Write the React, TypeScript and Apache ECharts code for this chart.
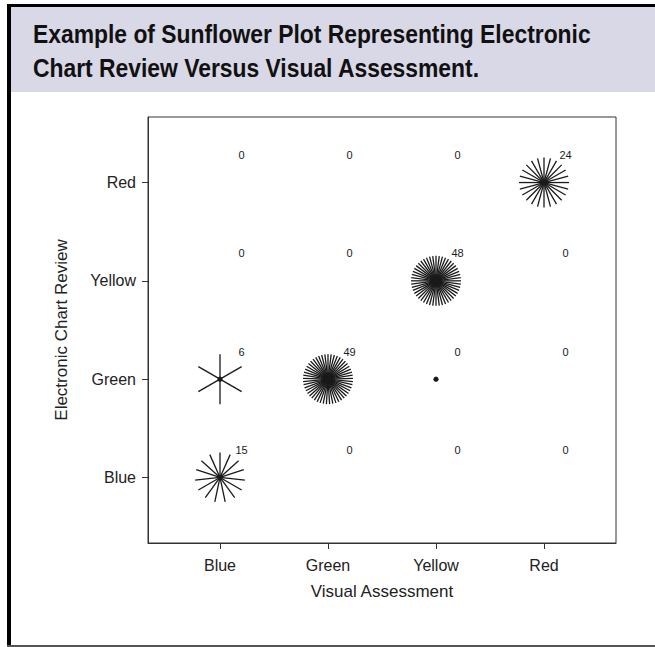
import React, { useEffect, useRef } from "react";
import * as echarts from "echarts";

const xCategories = ["Blue", "Green", "Yellow", "Red"];
const yCategories = ["Blue", "Green", "Yellow", "Red"];

// petals drawn per cell, one array per Electronic Chart Review row (columns = Visual Assessment)
const petalsBlueRow = [15, 0, 0, 0];
const petalsGreenRow = [6, 49, 1, 0];
const petalsYellowRow = [0, 0, 48, 0];
const petalsRedRow = [0, 0, 0, 24];

// printed count labels per row
const labelsBlueRow = [15, 0, 0, 0];
const labelsGreenRow = [6, 49, 0, 0];
const labelsYellowRow = [0, 0, 48, 0];
const labelsRedRow = [0, 0, 0, 24];

const titleLines = [
  "Example of Sunflower Plot Representing Electronic",
  "Chart Review Versus Visual Assessment.",
];

const petalRows = [petalsBlueRow, petalsGreenRow, petalsYellowRow, petalsRedRow];
const labelRows = [labelsBlueRow, labelsGreenRow, labelsYellowRow, labelsRedRow];

export default function App() {
  const ref = useRef<HTMLDivElement>(null);
  useEffect(() => {
    if (!ref.current) return;
    const chart = echarts.init(ref.current, null, { renderer: "svg" });
    const data: number[][] = [];
    petalRows.forEach((row, j) => {
      row.forEach((n, i) => {
        data.push([i + 1, j + 1, n, labelRows[j][i]]);
      });
    });
    const ticks = [1, 2, 3, 4];
    const R = 25;
    const ink = "#1a1a1a";
    const titleFont = 'bold 26px "Liberation Sans", Arial, sans-serif';
    chart.setOption({
      animation: false,
      backgroundColor: "#ffffff",
      graphic: [
        { type: "rect", shape: { x: 11, y: 7, width: 644, height: 85 }, style: { fill: "#d9d8e7" }, z: 0 },
        { type: "rect", shape: { x: 7, y: 4, width: 648, height: 3 }, style: { fill: "#000" } },
        { type: "rect", shape: { x: 7, y: 4, width: 4, height: 643 }, style: { fill: "#000" } },
        { type: "rect", shape: { x: 7, y: 645, width: 648, height: 2 }, style: { fill: "#555" } },
        ...titleLines.map((t, k) => ({
          type: "text",
          x: 33,
          y: 34 + k * 34,
          scaleX: 0.88,
          style: {
            text: t,
            font: titleFont,
            fill: "#111",
            verticalAlign: "middle",
            textVerticalAlign: "middle",
          },
        })),
      ],
      grid: {
        left: 148,
        top: 117,
        width: 468,
        height: 426,
        show: true,
        borderColor: "#333",
        borderWidth: 1,
        backgroundColor: "transparent",
      },
      xAxis: {
        type: "value",
        min: 1 / 3,
        max: 14 / 3,
        name: "Visual Assessment",
        nameLocation: "middle",
        nameGap: 40,
        nameTextStyle: { fontFamily: "Liberation Sans, Arial, sans-serif", fontSize: 17, color: "#222" },
        axisLine: { show: true, lineStyle: { color: "#333", width: 1 } },
        axisTick: { show: true, customValues: ticks, length: 6, lineStyle: { color: "#333" } },
        axisLabel: {
          customValues: ticks,
          formatter: (v: number) => xCategories[Math.round(v) - 1],
          fontFamily: "Liberation Sans, Arial, sans-serif",
          fontSize: 16,
          color: "#222",
          margin: 14,
        },
        splitLine: { show: false },
      },
      yAxis: {
        type: "value",
        min: 1 / 3,
        max: 14 / 3,
        name: "Electronic Chart Review",
        nameLocation: "middle",
        nameGap: 78,
        nameTextStyle: { fontFamily: "Liberation Sans, Arial, sans-serif", fontSize: 17, color: "#222" },
        axisLine: { show: true, lineStyle: { color: "#333", width: 1 } },
        axisTick: { show: true, customValues: ticks, length: 6, lineStyle: { color: "#333" } },
        axisLabel: {
          customValues: ticks,
          formatter: (v: number) => yCategories[Math.round(v) - 1],
          fontFamily: "Liberation Sans, Arial, sans-serif",
          fontSize: 16,
          color: "#222",
          margin: 12,
        },
        splitLine: { show: false },
      },
      series: [
        {
          type: "custom",
          data,
          clip: false,
          renderItem: (params: any, api: any) => {
            const x = api.value(0);
            const y = api.value(1);
            const n = api.value(2);
            const lab = api.value(3);
            const c = api.coord([x, y]);
            const lp = api.coord([x + 0.2, y + 0.28]);
            const children: any[] = [];
            if (n > 1) {
              for (let k = 0; k < n; k++) {
                const a = Math.PI / 2 + (2 * Math.PI * k) / n;
                children.push({
                  type: "line",
                  shape: { x1: c[0], y1: c[1], x2: c[0] + R * Math.cos(a), y2: c[1] - R * Math.sin(a) },
                  style: { stroke: ink, lineWidth: 1.3 },
                });
              }
            }
            if (n >= 1) {
              children.push({
                type: "circle",
                shape: { cx: c[0], cy: c[1], r: 2.6 },
                style: { fill: ink },
              });
            }
            children.push({
              type: "text",
              x: lp[0],
              y: lp[1],
              style: {
                text: String(lab),
                fill: ink,
                fontSize: 11,
                fontFamily: "Liberation Sans, Arial, sans-serif",
                align: "center",
                verticalAlign: "middle",
                textAlign: "center",
                textVerticalAlign: "middle",
              },
            });
            return { type: "group", children };
          },
        },
      ],
    });
    return () => chart.dispose();
  }, []);
  return (
    <div
      ref={ref}
      style={{ position: "fixed", left: 0, top: 0, width: 655, height: 647, background: "#fff" }}
    />
  );
}
